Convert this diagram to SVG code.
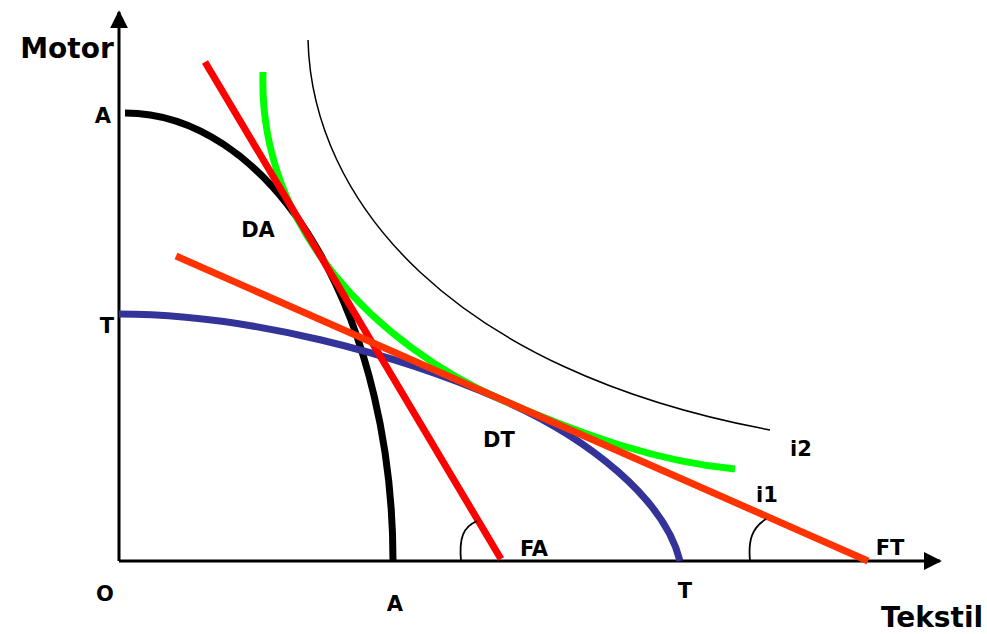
<svg xmlns="http://www.w3.org/2000/svg" width="987" height="634" viewBox="0 0 987 634">
<style>
text{font-family:"DejaVu Sans",Verdana,sans-serif;font-weight:bold;fill:#000;text-anchor:middle}
.lbl{font-size:21px}
.ttl{font-size:28px}
.ax{stroke:#000;stroke-width:3;fill:none}
.arc{stroke:#000;stroke-width:1.8;fill:none}
</style>
<defs>
<marker id="ahb" viewBox="0 0 10 10" refX="9" refY="5" markerWidth="6" markerHeight="6" orient="auto">
<path d="M0,0 L10,5 L0,10 Z" fill="#000"/>
</marker>
</defs>
<g id="axes">
<path class="ax" d="M119,561 V12" marker-end="url(#ahb)"/>
<path class="ax" d="M119,561 H940" marker-end="url(#ahb)"/>
</g>
<g id="curves">
<path id="ppfA" d="M125,113 A268,448 0 0 1 393,561" fill="none" stroke="#000" stroke-width="7"/>
<path id="ppfT" d="M119,314 C250,314 400,355 500,399 C590,438 665,500 680,561" fill="none" stroke="#333399" stroke-width="7"/>
<path id="i2" d="M308,40 C312,200 450,370 770,430" fill="none" stroke="#000" stroke-width="1.5"/>
<path id="i1" d="M263,72 C258,230 380,346 500,399 C590,438 660,462 735,469" fill="none" stroke="#00ff00" stroke-width="7"/>
<line id="FAline" x1="205" y1="62" x2="501" y2="559" stroke="#ff0000" stroke-width="7"/>
<line id="FTline" x1="176" y1="256" x2="868" y2="561" stroke="#ff3300" stroke-width="7"/>
<path class="arc" d="M461,561 C459,538 463,527 477,521"/>
<path class="arc" d="M750,561 C748,540 752,528 766,519"/>
</g>
<g id="labels">
<text class="ttl" x="67" y="58">Motor</text>
<text class="ttl" x="932" y="627">Tekstil</text>
<text class="lbl" x="103" y="123">A</text>
<text class="lbl" x="107" y="333">T</text>
<text class="lbl" x="105" y="601">O</text>
<text class="lbl" x="395" y="611">A</text>
<text class="lbl" x="685" y="598">T</text>
<text class="lbl" x="258" y="237">DA</text>
<text class="lbl" x="499" y="447">DT</text>
<text class="lbl" x="534" y="556">FA</text>
<text class="lbl" x="890" y="555">FT</text>
<text class="lbl" x="767" y="502">i1</text>
<text class="lbl" x="801" y="456">i2</text>
</g>
</svg>
